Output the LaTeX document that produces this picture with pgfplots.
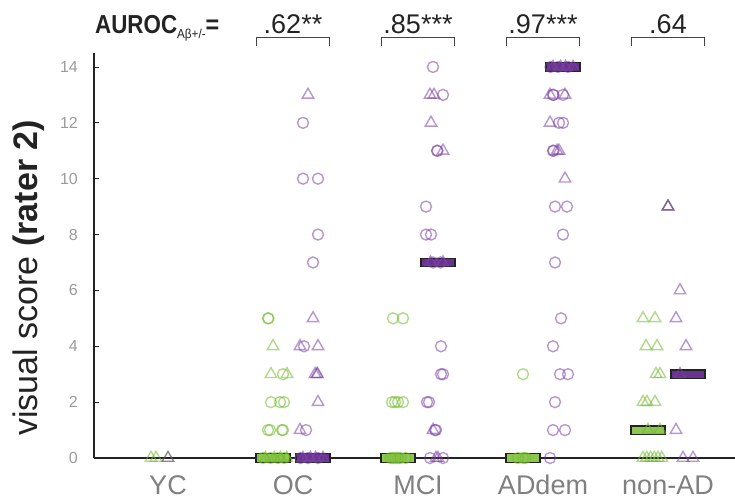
\documentclass[border=0pt]{standalone}
\usepackage{fontspec}
\setmainfont{Liberation Sans}
\usepackage{graphicx}
\usepackage{pgfplots}
\pgfplotsset{compat=1.18}
\definecolor{gM}{RGB}{115,185,45}
\definecolor{pM}{RGB}{125,65,165}
\definecolor{grM}{RGB}{95,95,105}
\definecolor{gB}{RGB}{140,200,80}
\definecolor{pB}{RGB}{105,50,145}
\definecolor{tickgray}{RGB}{155,155,155}
\definecolor{labgray}{RGB}{128,128,128}
\definecolor{axdark}{RGB}{35,35,35}
\pgfplotsset{
  gc/.style={only marks, mark=o, mark size=5.5pt, mark options={draw=gM, draw opacity=0.55, line width=1.4pt}},
  gt/.style={only marks, mark=triangle, mark size=6.6pt, mark options={draw=gM, draw opacity=0.55, line width=1.4pt}},
  pc/.style={only marks, mark=o, mark size=5.5pt, mark options={draw=pM, draw opacity=0.55, line width=1.4pt}},
  pt/.style={only marks, mark=triangle, mark size=6.6pt, mark options={draw=pM, draw opacity=0.55, line width=1.4pt}},
  grt/.style={only marks, mark=triangle, mark size=6.6pt, mark options={draw=grM, draw opacity=0.75, line width=1.4pt}},
  medbox/.style={draw=axdark, line width=1.3pt},
}
\begin{document}
\begin{tikzpicture}
\begin{axis}[
  scale only axis, width=641pt, height=405pt,
  xmin=0.408, xmax=5.536, ymin=0, ymax=14.5,
  clip=false,
  axis x line*=bottom, axis y line*=left,
  axis line style={axdark, line width=2pt},
  xtick={1,2,3,4,5},
  xticklabels={YC,OC,MCI,ADdem,non-AD},
  xtick style={draw=none},
  xticklabel style={font=\fontsize{27}{29}\selectfont, text=labgray, anchor=base, inner sep=0pt, yshift=-37pt},
  ytick={0,2,4,6,8,10,12,14},
  tick align=inside,
  major tick length=5pt,
  ytick style={axdark, line width=0.8pt},
  yticklabel style={font=\fontsize{16}{18}\selectfont, text=tickgray, anchor=east, inner sep=0pt, xshift=-16pt},
  /pgf/number format/assume math mode=true,
  ylabel={visual score \textbf{(rater 2)}},
  ylabel style={font=\fontsize{34}{36}\selectfont, text=axdark, at={(axis description cs:-0.0874,0.445)}, anchor=base},
]
% ---------- Abeta- (green) circles
\addplot[gc] coordinates {
 (1.800,5) (1.804,5)
 (1.920,3)
 (1.824,2) (1.896,2) (1.928,2)
 (1.800,1) (1.816,1) (1.912,1) (1.920,1)
 (1.760,0) (1.820,0) (1.880,0) (1.930,0)
 (2.800,5) (2.880,5)
 (2.792,2) (2.816,2) (2.840,2) (2.880,2)
 (2.780,0) (2.800,0) (2.820,0) (2.840,0) (2.860,0) (2.900,0)
 (3.840,3)
 (3.800,0) (3.840,0) (3.860,0)
};
% ---------- Abeta- (green) triangles
\addplot[gt] coordinates {
 (0.864,0) (0.904,0)
 (1.840,4)
 (1.824,3) (1.952,3)
 (1.780,0) (1.850,0) (1.900,0) (1.950,0)
 (4.800,5) (4.896,5)
 (4.824,4) (4.912,4)
 (4.904,3) (4.936,3)
 (4.800,2) (4.832,2) (4.896,2)
 (4.840,1) (4.936,1)
 (4.800,0) (4.830,0) (4.860,0) (4.890,0) (4.920,0) (4.950,0)
};
% ---------- unknown (gray) triangles
\addplot[grt] coordinates {
 (1.000,0)
 (5.000,9)
};
% ---------- Abeta+ (purple) circles
\addplot[pc] coordinates {
 (2.080,12)
 (2.080,10) (2.200,10)
 (2.200,8)
 (2.160,7)
 (2.088,4)
 (2.104,1)
 (2.060,0) (2.120,0) (2.200,0)
 (3.120,14)
 (3.200,13)
 (3.152,11) (3.156,11)
 (3.064,9)
 (3.064,8) (3.104,8)
 (3.120,7) (3.180,7)
 (3.184,4)
 (3.184,3) (3.200,3)
 (3.072,2) (3.088,2)
 (3.136,1) (3.144,1)
 (3.096,0) (3.200,0)
 (4.060,14) (4.120,14) (4.200,14)
 (4.080,13) (4.084,13) (4.160,13)
 (4.128,12) (4.160,12)
 (4.080,11) (4.084,11)
 (4.096,9) (4.192,9)
 (4.160,8)
 (4.096,7)
 (4.144,5)
 (4.080,4)
 (4.136,3) (4.200,3)
 (4.096,2)
 (4.080,1) (4.176,1)
 (4.056,0)
};
% ---------- Abeta+ (purple) triangles
\addplot[pt] coordinates {
 (2.120,13)
 (2.160,5)
 (2.056,4) (2.200,4)
 (2.176,3) (2.192,3) (2.196,3)
 (2.200,2)
 (2.056,1)
 (2.080,0) (2.140,0) (2.180,0) (2.240,0)
 (3.096,13) (3.128,13)
 (3.104,12)
 (3.200,11)
 (3.100,7) (3.200,7)
 (3.120,1)
 (3.144,0) (3.160,0)
 (4.080,14) (4.140,14) (4.180,14) (4.240,14)
 (4.056,13) (4.176,13)
 (4.056,12)
 (4.112,11) (4.128,11)
 (4.176,10)
 (5.000,9)
 (5.096,6)
 (5.064,5)
 (5.144,4)
 (5.096,3)
 (5.064,1)
 (5.120,0) (5.200,0)
};
% ---------- median boxes
\addplot[medbox, fill=gB] coordinates {(1.705,-0.15) (1.975,-0.15) (1.975,0.15) (1.705,0.15)} -- cycle;
\addplot[medbox, fill=pB] coordinates {(2.025,-0.15) (2.295,-0.15) (2.295,0.15) (2.025,0.15)} -- cycle;
\addplot[medbox, fill=gB] coordinates {(2.705,-0.15) (2.975,-0.15) (2.975,0.15) (2.705,0.15)} -- cycle;
\addplot[medbox, fill=pB] coordinates {(3.025,6.85) (3.295,6.85) (3.295,7.15) (3.025,7.15)} -- cycle;
\addplot[medbox, fill=gB] coordinates {(3.705,-0.15) (3.975,-0.15) (3.975,0.15) (3.705,0.15)} -- cycle;
\addplot[medbox, fill=pB] coordinates {(4.025,13.85) (4.295,13.85) (4.295,14.15) (4.025,14.15)} -- cycle;
\addplot[medbox, fill=gB] coordinates {(4.705,0.85) (4.975,0.85) (4.975,1.15) (4.705,1.15)} -- cycle;
\addplot[medbox, fill=pB] coordinates {(5.025,2.85) (5.295,2.85) (5.295,3.15) (5.025,3.15)} -- cycle;
% ---------- header
\node[anchor=base west, inner sep=0pt, text=axdark, font=\fontsize{26}{28}\selectfont\bfseries]
  at (axis cs:0.416,15.2) {\scalebox{0.86}[1]{AUROC}\raisebox{-5pt}{\fontsize{13}{15}\selectfont\mdseries\scalebox{0.9}[1]{Aβ+/-}}\scalebox{0.9}[1]{=}};
\node[anchor=base, inner sep=0pt, text=axdark, font=\fontsize{27}{29}\selectfont] at (axis cs:2,15.2) {.62**};
\node[anchor=base, inner sep=0pt, text=axdark, font=\fontsize{27}{29}\selectfont] at (axis cs:3,15.2) {.85***};
\node[anchor=base, inner sep=0pt, text=axdark, font=\fontsize{27}{29}\selectfont] at (axis cs:4,15.2) {.97***};
\node[anchor=base, inner sep=0pt, text=axdark, font=\fontsize{27}{29}\selectfont] at (axis cs:5,15.2) {.64};
\draw[axdark!85, line width=1.1pt] (axis cs:1.705,14.76) |- (axis cs:2.295,15.04) -- (axis cs:2.295,14.76);
\draw[axdark!85, line width=1.1pt] (axis cs:2.705,14.76) |- (axis cs:3.295,15.04) -- (axis cs:3.295,14.76);
\draw[axdark!85, line width=1.1pt] (axis cs:3.705,14.76) |- (axis cs:4.295,15.04) -- (axis cs:4.295,14.76);
\draw[axdark!85, line width=1.1pt] (axis cs:4.705,14.76) |- (axis cs:5.295,15.04) -- (axis cs:5.295,14.76);
\end{axis}
\pgfresetboundingbox
\path (-94pt,-44pt) rectangle (641pt,458pt);
\end{tikzpicture}
\end{document}
